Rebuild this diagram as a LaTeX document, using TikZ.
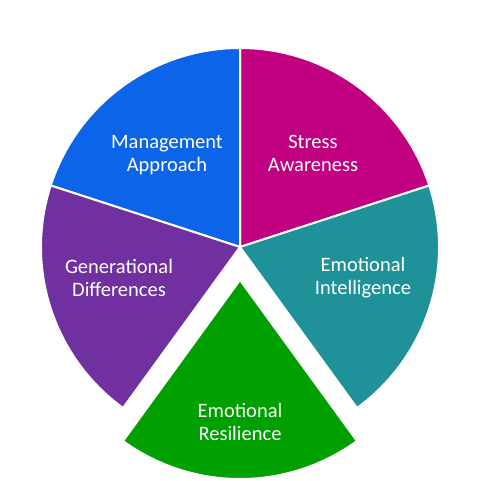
\documentclass[tikz,border=0pt]{standalone}
\usepackage{fontspec}
\setmainfont{Carlito}
\definecolor{cblue}{RGB}{12,100,232}
\definecolor{cmag}{RGB}{192,0,128}
\definecolor{cteal}{RGB}{30,145,153}
\definecolor{cgreen}{RGB}{0,160,0}
\definecolor{cpurp}{RGB}{112,48,160}
\tikzset{
  slice/.style={draw=white, line width=2pt, line join=miter},
  lbl/.style={text=white, align=center, font=\fontsize{20.5}{23}\selectfont}
}
\newcommand{\pieslice}[5]{% color, cx, cy, a1, a2
  \fill[#1, slice] (#2,#3) -- ++(#4:199) arc[start angle=#4, end angle=#5, radius=199] -- cycle;}
\begin{document}
\begin{tikzpicture}[x=1pt,y=1pt]
\useasboundingbox (0,0) rectangle (495,481);
\coordinate (c) at (240,234);
\pieslice{cmag}{240}{234}{18}{90}
\pieslice{cblue}{240}{234}{90}{162}
\pieslice{cpurp}{240}{234}{162}{234}
\pieslice{cteal}{240}{234}{-54}{18}
\pieslice{cgreen}{240}{201}{234}{306}
\node[lbl] (ma) at (167,326) {Management\\Approach};
\node[lbl] (sa) at (313,328) {Stress\\Awareness};
\node[lbl] (ei) at (363,203) {Emotional\\Intelligence};
\node[lbl] (gd) at (119,203) {Generational\\Differences};
\node[lbl] (er) at (240,59) {Emotional\\Resilience};
\end{tikzpicture}
\end{document}
